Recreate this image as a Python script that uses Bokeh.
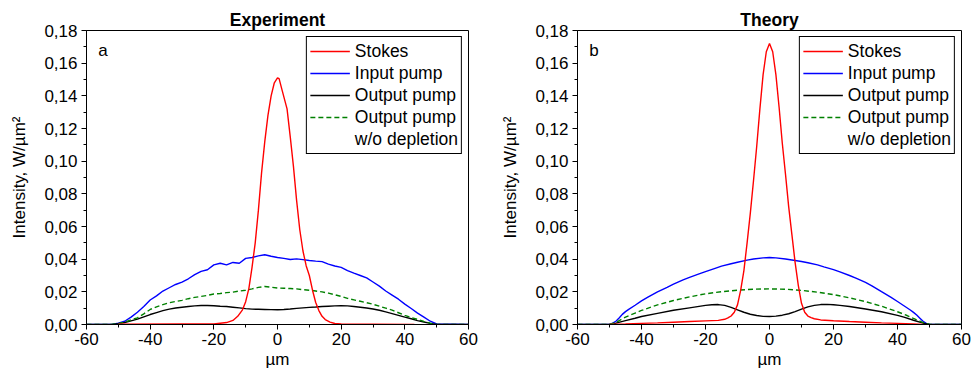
from bokeh.plotting import figure
from bokeh.layouts import row
from bokeh.models import Range1d, FixedTicker, Legend, LegendItem, Label
from bokeh.embed import file_html
from bokeh.resources import INLINE

FONT = "Liberation Sans"

# ---------------- axis ticks ----------------
x_ticks = [-60, -40, -20, 0, 20, 40, 60]
x_tick_labels = ["-60", "-40", "-20", "0", "20", "40", "60"]
x_minor = [-50, -30, -10, 10, 30, 50]
y_ticks = [0.0, 0.02, 0.04, 0.06, 0.08, 0.1, 0.12, 0.14, 0.16, 0.18]
y_tick_labels = ["0,00", "0,02", "0,04", "0,06", "0,08", "0,10", "0,12", "0,14", "0,16", "0,18"]
y_minor = [0.01, 0.03, 0.05, 0.07, 0.09, 0.11, 0.13, 0.15, 0.17]

# ---------------- Experiment (a) ----------------
exp_stokes_x = [-50, -30, -20, -16, -14, -12.5, -11, -10, -9, -8, -7, -6, -5, -4, -3, -2, -1, 0, 0.5,
                1.5, 3, 4, 5, 6, 7, 8, 9, 10, 11, 12, 13, 14, 15, 16.5, 18, 20, 30, 43]
exp_stokes_y = [0.0002, 0.0003, 0.0003, 0.0012, 0.0025, 0.005, 0.009, 0.014, 0.022, 0.035, 0.05, 0.07,
                0.093, 0.112, 0.128, 0.14, 0.148, 0.151, 0.1505, 0.143, 0.132, 0.115, 0.097, 0.076,
                0.058, 0.045, 0.036, 0.030, 0.021, 0.0135, 0.0085, 0.005, 0.003, 0.0015, 0.0006,
                0.0003, 0.0002, 0.0001]

exp_pump_x = [-60, -52, -50, -48, -46, -44, -42, -40, -38, -36, -34, -32, -30, -28, -26, -24, -22, -20,
              -18, -16, -14, -12, -10, -8, -6, -4, -2, 0, 2, 4, 6, 8, 10, 12, 14, 16, 18, 20, 22, 24,
              26, 28, 30, 32, 34, 36, 38, 40, 42, 44, 46, 48, 50, 60]
exp_input_y = [0, 0, 0.0008, 0.002, 0.0045, 0.0075, 0.011, 0.015, 0.0175, 0.0205, 0.0225, 0.0245,
               0.026, 0.028, 0.0305, 0.0325, 0.0335, 0.0365, 0.0375, 0.0365, 0.038, 0.0375, 0.0405,
               0.041, 0.042, 0.0427, 0.0418, 0.041, 0.0405, 0.0398, 0.0402, 0.0397, 0.0392, 0.0388,
               0.0385, 0.037, 0.0358, 0.035, 0.033, 0.0314, 0.030, 0.0285, 0.026, 0.0235, 0.0205,
               0.018, 0.0155, 0.0125, 0.0098, 0.007, 0.0045, 0.002, 0.0003, 0]
exp_output_y = [0, 0, 0.0005, 0.0012, 0.0022, 0.0033, 0.0047, 0.0061, 0.0073, 0.0085, 0.0094, 0.0101,
                0.0106, 0.011, 0.0114, 0.0116, 0.0116, 0.0115, 0.0112, 0.011, 0.0106, 0.0102, 0.0097,
                0.0094, 0.0093, 0.0092, 0.0091, 0.009, 0.0092, 0.0095, 0.0099, 0.0102, 0.0105, 0.0107,
                0.011, 0.0112, 0.0114, 0.0115, 0.0114, 0.011, 0.0106, 0.0101, 0.0095, 0.0087, 0.0077,
                0.0067, 0.0056, 0.0045, 0.0035, 0.0024, 0.0015, 0.0007, 0, 0]
exp_nodep_y = [0, 0, 0.0005, 0.0015, 0.0028, 0.0041, 0.0065, 0.0092, 0.0108, 0.0122, 0.0133, 0.0141,
               0.0148, 0.0158, 0.0166, 0.0172, 0.0178, 0.0187, 0.019, 0.0195, 0.0198, 0.0205, 0.021,
               0.0218, 0.0227, 0.0233, 0.0228, 0.0223, 0.0222, 0.022, 0.0218, 0.0213, 0.021, 0.0205,
               0.02, 0.0192, 0.0182, 0.0172, 0.016, 0.0151, 0.0142, 0.0133, 0.0124, 0.0112, 0.01,
               0.0088, 0.0072, 0.0056, 0.0043, 0.0031, 0.0019, 0.0008, 0, 0]

# ---------------- Theory (b) ----------------
th_stokes_x = [-50, -45, -40, -35, -30, -25, -20, -16, -14, -13, -12, -11, -10, -9, -8, -7, -6, -5,
               -4, -3, -2, -1, 0, 1, 2, 3, 4, 5, 6, 7, 8, 9, 10, 11, 12, 13, 14, 16, 20, 25, 30, 35,
               40, 45, 48]
th_stokes_y = [0, 0.0003, 0.0007, 0.001, 0.0014, 0.0018, 0.0022, 0.0025, 0.0032, 0.004, 0.0052,
               0.0075, 0.012, 0.021, 0.033, 0.05, 0.068, 0.088, 0.109, 0.132, 0.153, 0.167, 0.172,
               0.167, 0.153, 0.133, 0.111, 0.092, 0.072, 0.055, 0.038, 0.024, 0.013, 0.0075, 0.0052,
               0.0042, 0.0035, 0.0028, 0.0023, 0.0018, 0.0014, 0.001, 0.0007, 0.0003, 0]

th_input_x = [-60, -50, -49, -48, -47, -46, -45, -44, -42, -40, -38, -35, -32, -30, -27, -25, -22,
              -20, -17, -15, -12, -10, -7, -5, -2, 0, 2, 5, 7, 10, 12, 15, 17, 20, 22, 25, 27, 30,
              32, 35, 38, 40, 42, 44, 45, 46, 47, 48, 49, 50, 60]
th_input_y = [0, 0, 0.0008, 0.002, 0.004, 0.0062, 0.0079, 0.0093, 0.0118, 0.0145, 0.0168, 0.02,
              0.0228, 0.0247, 0.0273, 0.0289, 0.031, 0.0324, 0.0344, 0.0357, 0.0372, 0.0381, 0.0394,
              0.0401, 0.0408, 0.041, 0.0408, 0.0401, 0.0395, 0.0386, 0.0378, 0.0365, 0.0353, 0.0336,
              0.0322, 0.03, 0.0284, 0.0258, 0.0237, 0.0201, 0.0166, 0.0141, 0.0115, 0.0089, 0.0074,
              0.0058, 0.0039, 0.002, 0.0007, 0, 0]

th_output_x = [-60, -50, -48, -45, -42, -40, -35, -30, -25, -22, -20, -18, -16, -14, -12, -10, -8,
               -6, -4, -2, 0, 2, 4, 6, 8, 10, 12, 14, 16, 18, 20, 22, 25, 30, 35, 40, 42, 45, 48, 50, 60]
th_output_y = [0, 0, 0.0008, 0.0024, 0.0038, 0.0049, 0.0068, 0.0087, 0.0102, 0.0111, 0.0117,
               0.0121, 0.0122, 0.0117, 0.0105, 0.009, 0.0075, 0.0063, 0.0055, 0.005, 0.0049, 0.0051,
               0.0057, 0.0066, 0.0079, 0.0094, 0.0108, 0.0117, 0.0122, 0.0123, 0.0121, 0.0117,
               0.011, 0.0095, 0.0078, 0.0056, 0.0045, 0.0026, 0.0008, 0, 0]

th_nodep_x = [-60, -50, -48, -45, -42, -40, -35, -30, -25, -20, -15, -10, -5, 0, 5, 10, 15, 20, 25,
              30, 35, 40, 43, 45, 48, 50, 60]
th_nodep_y = [0, 0, 0.0012, 0.0045, 0.007, 0.0086, 0.012, 0.0147, 0.0169, 0.0188, 0.0201, 0.021,
              0.0216, 0.0218, 0.0216, 0.0209, 0.0198, 0.0183, 0.0163, 0.014, 0.0112, 0.0078, 0.0055,
              0.0037, 0.0012, 0, 0]

legend_labels = ["Stokes", "Input pump", "Output pump", "Output pump", "w/o depletion"]

LW = 1.4


def make_panel(title, letter, s_x, s_y, in_x, in_y, out_x, out_y, nd_x, nd_y,
               border_left, frame_w, border_right):
    p = figure(x_range=Range1d(-60, 60), y_range=Range1d(0, 0.18),
               frame_width=frame_w, frame_height=294,
               min_border_left=border_left, min_border_right=border_right,
               min_border_top=30, min_border_bottom=44,
               output_backend="svg", toolbar_location=None, title=title)
    p.xgrid.visible = False
    p.ygrid.visible = False
    p.outline_line_color = "black"
    p.outline_line_alpha = 1
    p.background_fill_color = "white"
    p.border_fill_color = "white"

    p.title.text_font = FONT
    p.title.text_font_size = "17.5px"
    p.title.text_font_style = "bold"
    p.title.text_color = "black"
    p.title.align = "center"
    p.title.standoff = 2

    p.xaxis.ticker = FixedTicker(ticks=x_ticks, minor_ticks=x_minor)
    p.yaxis.ticker = FixedTicker(ticks=y_ticks, minor_ticks=y_minor)
    p.xaxis.major_label_overrides = {t: l for t, l in zip(x_ticks, x_tick_labels)}
    p.yaxis.major_label_overrides = {t: l for t, l in zip(y_ticks, y_tick_labels)}
    for ax in (p.xaxis, p.yaxis):
        ax.axis_line_color = "black"
        ax.major_tick_line_color = "black"
        ax.minor_tick_line_color = "black"
        ax.major_tick_in = 0
        ax.major_tick_out = 5
        ax.minor_tick_in = 0
        ax.minor_tick_out = 3
        ax.major_label_text_font = FONT
        ax.major_label_text_font_size = "17px"
        ax.major_label_text_color = "black"
        ax.axis_label_text_font = FONT
        ax.axis_label_text_font_size = "17px"
        ax.axis_label_text_font_style = "normal"
        ax.axis_label_text_color = "black"
    p.xaxis.axis_label = "µm"
    p.xaxis.major_label_standoff = 3
    p.xaxis.axis_label_standoff = 2
    p.yaxis.axis_label = "Intensity, W/µm²"
    p.yaxis.major_label_standoff = 4
    p.yaxis.axis_label_standoff = 12

    r_in = p.line(in_x, in_y, line_color="#0000ff", line_width=LW)
    r_out = p.line(out_x, out_y, line_color="black", line_width=LW)
    r_nd = p.line(nd_x, nd_y, line_color="#008000", line_width=LW, line_dash="5 3")
    r_s = p.line(s_x, s_y, line_color="#ff0000", line_width=LW)
    # invisible twin of the last series: only gives the legend its 5th (text-only) row
    r_blank = p.line(nd_x, nd_y, line_color="white", line_alpha=0)

    items = [LegendItem(label=lab, renderers=[r])
             for lab, r in zip(legend_labels, [r_s, r_in, r_out, r_nd, r_blank])]
    leg = Legend(items=items, location="top_right", margin=6, padding=3, spacing=0,
                 glyph_width=40, glyph_height=22, label_height=22, label_standoff=5,
                 label_text_font=FONT, label_text_font_size="17.5px",
                 label_text_color="black", label_text_baseline="middle",
                 border_line_color="black", border_line_width=1, border_line_alpha=1,
                 background_fill_color="white", background_fill_alpha=1)
    p.add_layout(leg)

    p.add_layout(Label(x=-56.3, y=0.168, text=letter, text_font=FONT, text_font_size="17px",
                       text_baseline="middle", text_align="left", text_color="black"))
    return p


p1 = make_panel("Experiment", "a", exp_stokes_x, exp_stokes_y, exp_pump_x, exp_input_y,
                exp_pump_x, exp_output_y, exp_pump_x, exp_nodep_y, 86, 382, 20)
p2 = make_panel("Theory", "b", th_stokes_x, th_stokes_y, th_input_x, th_input_y,
                th_output_x, th_output_y, th_nodep_x, th_nodep_y, 89, 384, 16)

layout = row(p1, p2)
open("out.html", "w").write(file_html(layout, INLINE))
